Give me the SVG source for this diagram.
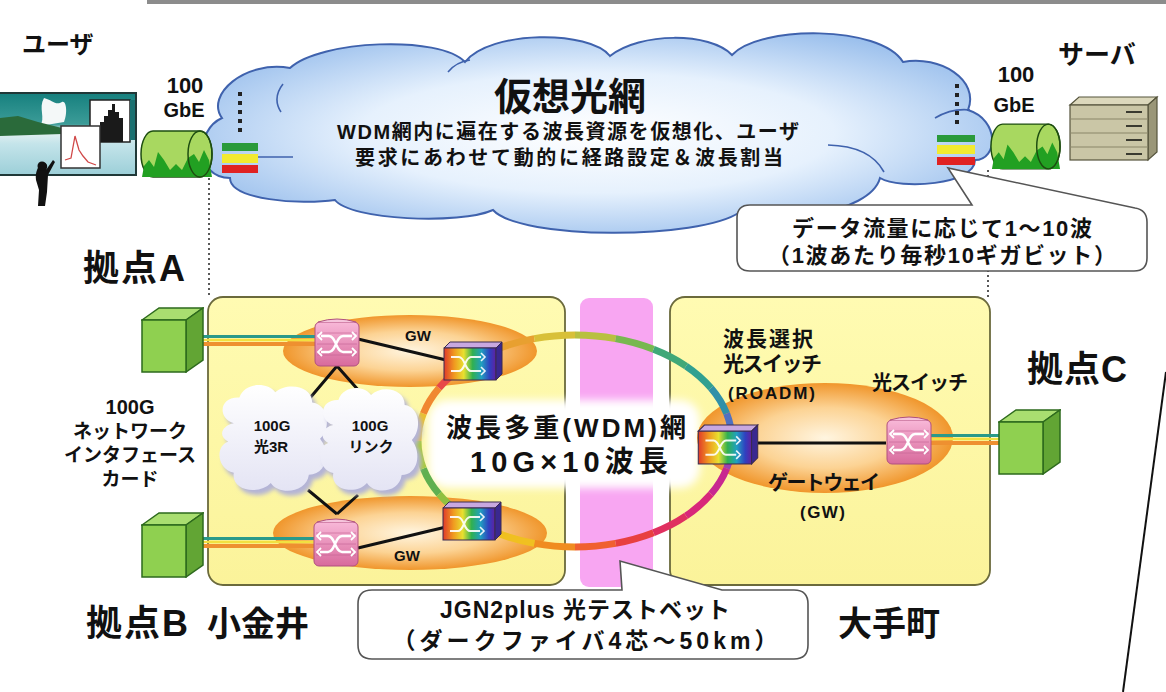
<svg xmlns="http://www.w3.org/2000/svg" xmlns:xlink="http://www.w3.org/1999/xlink" width="1166" height="692" viewBox="0 0 1166 692">
<style>
  .t { font-family: "Liberation Sans", "Noto Sans CJK JP", sans-serif; font-weight: 700; fill: #111; }
  .jp { font-family: "Noto Sans CJK JP", sans-serif; font-weight: 700; fill: #111; }
  .mid { text-anchor: middle; }
  .blk { stroke: #111; stroke-width: 3; fill: none; }
  .dot { stroke: #222; stroke-width: 1.5; stroke-dasharray: 2 3; fill: none; }
  .bigdot { stroke: #222; stroke-width: 4; stroke-dasharray: 4 5; fill: none; }
  .callout { fill: #fff; stroke: #555; stroke-width: 1.6; }
  .ybox { fill: url(#yellowG); stroke: #6b6a3c; stroke-width: 1.8; }
  .cube-front { fill: #8fd050; stroke: #2d6a1d; stroke-width: 1.5; }
  .cube-top { fill: #a9de70; stroke: #2d6a1d; stroke-width: 1.5; }
  .cube-side { fill: #62a534; stroke: #2d6a1d; stroke-width: 1.5; }
</style>
<defs>
  <linearGradient id="yellowG" x1="0" y1="0" x2="0" y2="1">
    <stop offset="0" stop-color="#fffbb2"/>
    <stop offset="1" stop-color="#fbf39a"/>
  </linearGradient>
  <radialGradient id="cloudG" cx="0.5" cy="0.5" r="0.6">
    <stop offset="0" stop-color="#ffffff"/>
    <stop offset="0.5" stop-color="#e6f1fd"/>
    <stop offset="1" stop-color="#94bbeb"/>
  </radialGradient>
  <radialGradient id="orangeG" cx="0.5" cy="0.5" r="0.5">
    <stop offset="0" stop-color="#fff5e0"/>
    <stop offset="0.55" stop-color="#fcd394"/>
    <stop offset="1" stop-color="#f0962c"/>
  </radialGradient>
  <linearGradient id="smallCloudG" x1="0" y1="0" x2="0" y2="1">
    <stop offset="0" stop-color="#ffffff"/>
    <stop offset="1" stop-color="#e4e4f4"/>
  </linearGradient>
  <linearGradient id="pinkG" x1="0" y1="0" x2="0" y2="1">
    <stop offset="0" stop-color="#f8b8d8"/>
    <stop offset="1" stop-color="#d86a9c"/>
  </linearGradient>
  <linearGradient id="rainbowG" x1="0" y1="0" x2="1" y2="0">
    <stop offset="0" stop-color="#e03a2a"/>
    <stop offset="0.2" stop-color="#f09a20"/>
    <stop offset="0.38" stop-color="#e8e030"/>
    <stop offset="0.55" stop-color="#30b050"/>
    <stop offset="0.72" stop-color="#20a0c0"/>
    <stop offset="0.88" stop-color="#3040c0"/>
    <stop offset="1" stop-color="#6020a0"/>
  </linearGradient>
  <linearGradient id="sceneG" x1="0" y1="0" x2="0" y2="1">
    <stop offset="0" stop-color="#16807e"/>
    <stop offset="0.38" stop-color="#3c9c98"/>
    <stop offset="0.46" stop-color="#e8f2f2"/>
    <stop offset="0.62" stop-color="#c4e4ea"/>
    <stop offset="1" stop-color="#9ccfd8"/>
  </linearGradient>
  <filter id="soft" x="-0.2" y="-0.2" width="1.4" height="1.4">
    <feGaussianBlur stdDeviation="4"/>
  </filter>
  <filter id="shadow" x="-0.2" y="-0.2" width="1.4" height="1.4">
    <feGaussianBlur stdDeviation="2"/>
  </filter>
  <!-- small 100G cloud outline, about 100 x 110 -->
  <path id="cloudShape" d="M15,40 C0,35 2,14 20,15 C25,0 45,0 52,10 C62,0 85,3 85,20 C100,22 102,45 92,55 C102,68 98,90 82,90 C80,108 55,110 48,98 C38,110 12,106 15,88 C0,85 -2,62 10,58 C0,52 5,42 15,40 Z"/>
  <!-- packet/optical switch (pink stack) -->
  <symbol id="psw" viewBox="0 0 46 50">
    <rect x="1" y="5" width="44" height="44" rx="5" fill="url(#pinkG)" stroke="#b0507e" stroke-width="1"/>
    <path d="M4,5 Q23,-1 42,5" fill="#f6c4dc" stroke="#b0507e" stroke-width="1"/>
    <path d="M3,16 H43 M3,27 H43 M3,38 H43" stroke="#c26092" stroke-width="1" opacity="0.6"/>
    <path d="M7,19 H15 C22,19 22,35 29,35 H38 M7,35 H15 C22,35 22,19 29,19 H38" fill="none" stroke="#fff" stroke-width="2.4"/>
    <path d="M38,15 L42,19 L38,23 M38,31 L42,35 L38,39 M8,15 L4,19 L8,23 M8,31 L4,35 L8,39" fill="none" stroke="#fff" stroke-width="1.8"/>
  </symbol>
  <!-- wavelength switch (rainbow box) -->
  <symbol id="wsw" viewBox="0 0 60 40">
    <polygon points="1,7 7,1 59,1 53,7" fill="#c8a8e0" stroke="#3a2a50" stroke-width="1"/>
    <rect x="1" y="7" width="52" height="32" fill="url(#rainbowG)" stroke="#3a2a50" stroke-width="1"/>
    <polygon points="53,7 59,1 59,33 53,39" fill="#3a2890" stroke="#3a2a50" stroke-width="1"/>
    <path d="M8,16 H16 C22,16 22,30 28,30 H38 M8,30 H16 C22,30 22,16 28,16 H38" fill="none" stroke="#fff" stroke-width="2" opacity="0.9"/>
    <path d="M38,12 L42,16 L38,20 M38,26 L42,30 L38,34" fill="none" stroke="#fff" stroke-width="1.6" opacity="0.9"/>
  </symbol>
  <!-- network interface card (green cube) -->
  <symbol id="cube" viewBox="0 0 63 66">
    <polygon class="cube-top" points="1,13 18,1 62,1 45,13"/>
    <polygon class="cube-side" points="45,13 62,1 62,53 45,65"/>
    <rect class="cube-front" x="1" y="13" width="44" height="52"/>
  </symbol>
  <!-- 100GbE cable drum -->
  <symbol id="drum" viewBox="0 0 74 48">
    <path d="M13,1 H60 A12,23 0 0 1 60,47 H13 A12,23 0 0 1 13,1 Z" fill="#a8d860" stroke="#1d4d10" stroke-width="1.5"/>
    <polygon points="2,47 4,36 9,30 14,37 18,22 24,30 30,40 36,34 42,40 48,28 54,24 59,32 64,20 69,30 72,47" fill="#22a022"/>
    <ellipse cx="60" cy="24" rx="12" ry="23" fill="none" stroke="#1d4d10" stroke-width="1.5"/>
  </symbol>
</defs>

<rect width="1166" height="692" fill="#ffffff"/>
<rect x="147" y="0" width="1019" height="4" fill="#8c8c8c"/>

<!-- site boxes and test-bed band -->
<g id="site-koganei">
  <rect class="ybox" x="208" y="297" width="357" height="288" rx="15"/>
</g>
<g id="site-otemachi">
  <rect class="ybox" x="670" y="297" width="320" height="288" rx="15"/>
</g>
<g id="testbed-band">
  <rect x="580" y="298" width="73" height="289" rx="9" fill="#f8a6f2"/>
</g>
<rect x="428" y="400" width="272" height="88" rx="20" fill="#ffffff" filter="url(#soft)"/>

<!-- gateway ellipses -->
<g id="gw-top"><ellipse cx="410" cy="351" rx="127" ry="36" fill="url(#orangeG)"/></g>
<g id="gw-bottom"><ellipse cx="410" cy="533" rx="137" ry="37" fill="url(#orangeG)"/></g>
<g id="gw-otemachi"><ellipse cx="825" cy="438" rx="128" ry="55" fill="url(#orangeG)"/></g>

<!-- virtual optical network cloud -->
<g id="virtual-network">
  <path d="M222,118 C205,95 245,60 290,68 C320,40 440,35 465,62 C490,30 590,30 610,56 C640,32 710,32 732,55 C760,25 880,25 903,62 C940,55 980,80 968,110 C1000,120 998,160 975,160 C975,185 900,190 880,178 C870,215 770,225 740,212 C700,240 520,240 493,210 C460,225 350,220 335,200 C300,205 230,200 230,178 C195,178 195,130 222,118 Z" fill="url(#cloudG)" stroke="#3f62ad" stroke-width="2"/>
  <path d="M283,84 Q272,98 281,112 M828,145 Q870,146 884,172 M935,118 Q952,108 970,110 M448,72 Q456,62 470,60" fill="none" stroke="#3f62ad" stroke-width="1.6"/>
  <text class="jp mid" x="570" y="110" font-size="38">仮想光網</text>
  <text class="t mid" x="568" y="139" font-size="20" textLength="462" lengthAdjust="spacing">WDM網内に遍在する波長資源を仮想化、ユーザ</text>
  <text class="t mid" x="569" y="165" font-size="20" textLength="428" lengthAdjust="spacing">要求にあわせて動的に経路設定＆波長割当</text>
</g>

<!-- connectors -->
<g id="connectors">
  <!-- site boundary guides -->
  <path class="dot" d="M209,178 V297"/>
  <path class="dot" d="M988,170 V297"/>
  <!-- wavelength stacks in the cloud -->
  <path class="bigdot" d="M240,92 V136"/>
  <path class="bigdot" d="M957,84 V127"/>
  <rect x="222" y="143" width="36" height="8" fill="#2a9a3a"/>
  <rect x="222" y="154" width="36" height="9" fill="#f2ea30"/>
  <rect x="222" y="165" width="36" height="8" fill="#e02222"/>
  <path d="M258,157 H293" stroke="#3f62ad" stroke-width="1.5"/>
  <rect x="937" y="135" width="38" height="7" fill="#2a9a3a"/>
  <rect x="937" y="145" width="38" height="9" fill="#f2ea30"/>
  <rect x="937" y="157" width="38" height="8" fill="#e02222"/>
  <!-- fibres from interface cards -->
  <path d="M202,336.5 H318" stroke="#2a9a8a" stroke-width="3"/>
  <path d="M202,340 H318" stroke="#f2e040" stroke-width="2.5"/>
  <path d="M202,344 H318" stroke="#ee9030" stroke-width="4"/>
  <path d="M202,538.5 H316" stroke="#2a9a8a" stroke-width="3"/>
  <path d="M202,542 H316" stroke="#f2e040" stroke-width="2.5"/>
  <path d="M202,546 H316" stroke="#ee9030" stroke-width="4"/>
  <path d="M930,435.5 H1000" stroke="#2a9a8a" stroke-width="3"/>
  <path d="M930,439 H1000" stroke="#f2e040" stroke-width="2.5"/>
  <path d="M930,443 H1000" stroke="#ee9030" stroke-width="4"/>
  <!-- gateway links -->
  <path class="blk" d="M337,366 L310,398 M337,366 L360,392"/>
  <path class="blk" d="M337,514 L308,490 M337,514 L358,495"/>
  <path class="blk" d="M358,339 L446,360"/>
  <path class="blk" d="M358,548 L446,527"/>
  <path class="blk" d="M758,443 H886"/>
  <!-- WDM ring -->
  <g fill="none" stroke-width="7">
    <path d="M732,441 A157,106 0 0 1 726.65,468.43" stroke="#a040b0"/>
    <path d="M726.65,468.43 A157,106 0 0 1 710.97,494" stroke="#c82890"/>
    <path d="M710.97,494 A157,106 0 0 1 686.01,515.95" stroke="#d8287a"/>
    <path d="M686.01,515.95 A157,106 0 0 1 653.5,532.8" stroke="#e03060"/>
    <path d="M653.5,532.8 A157,106 0 0 1 615.63,543.39" stroke="#e84040"/>
    <path d="M615.63,543.39 A157,106 0 0 1 575,547" stroke="#f06030"/>
    <path d="M575,547 A157,106 0 0 1 534.37,543.39" stroke="#f08c20"/>
    <path d="M534.37,543.39 A157,106 0 0 1 496.5,532.8" stroke="#f0c020"/>
    <path d="M496.5,532.8 A157,106 0 0 1 463.99,515.95" stroke="#d8d030"/>
    <path d="M463.99,515.95 A157,106 0 0 1 439.03,494" stroke="#90c040"/>
    <path d="M439.03,494 A157,106 0 0 1 423.35,468.43" stroke="#60b050"/>
    <path d="M423.35,468.43 A157,106 0 0 1 418,441" stroke="#a8c840"/>
    <path d="M418,441 A157,106 0 0 1 423.35,413.57" stroke="#e8c030"/>
    <path d="M423.35,413.57 A157,106 0 0 1 439.03,388" stroke="#f08830"/>
    <path d="M439.03,388 A157,106 0 0 1 463.99,366.05" stroke="#e84848"/>
    <path d="M463.99,366.05 A157,106 0 0 1 496.5,349.2" stroke="#e86040"/>
    <path d="M496.5,349.2 A157,106 0 0 1 534.37,338.61" stroke="#e8a030"/>
    <path d="M534.37,338.61 A157,106 0 0 1 575,335" stroke="#d8c038"/>
    <path d="M575,335 A157,106 0 0 1 615.63,338.61" stroke="#b8c040"/>
    <path d="M615.63,338.61 A157,106 0 0 1 653.5,349.2" stroke="#78b850"/>
    <path d="M653.5,349.2 A157,106 0 0 1 686.01,366.05" stroke="#40a878"/>
    <path d="M686.01,366.05 A157,106 0 0 1 710.97,388" stroke="#30a090"/>
    <path d="M710.97,388 A157,106 0 0 1 726.65,413.57" stroke="#3090a8"/>
    <path d="M726.65,413.57 A157,106 0 0 1 732,441" stroke="#5070c0"/>
  </g>
</g>

<!-- 100G clouds -->
<g id="cloud-3r">
  <use href="#cloudShape" transform="translate(221,387) scale(1.12,1.03)" fill="#b4b4d6" filter="url(#shadow)"/>
  <use href="#cloudShape" transform="translate(217,382) scale(1.12,1.03)" fill="url(#smallCloudG)"/>
  <text class="t mid" x="272" y="431" font-size="15">100G</text>
  <text class="t mid" x="271" y="452" font-size="15">光3R</text>
</g>
<g id="cloud-link">
  <use href="#cloudShape" transform="translate(322,390) scale(1.02,1.0)" fill="#b4b4d6" filter="url(#shadow)"/>
  <use href="#cloudShape" transform="translate(318,385) scale(1.02,1.0)" fill="url(#smallCloudG)"/>
  <text class="t mid" x="370" y="431" font-size="15">100G</text>
  <text class="t mid" x="371" y="452" font-size="15">リンク</text>
</g>

<!-- switches -->
<g id="switch-top"><use href="#psw" x="314" y="317" width="46" height="50"/></g>
<g id="switch-bottom"><use href="#psw" x="313" y="517" width="46" height="50"/></g>
<g id="switch-otemachi"><use href="#psw" x="886" y="415" width="46" height="50"/></g>
<g id="wdm-top"><use href="#wsw" x="443" y="341" width="60" height="40"/></g>
<g id="wdm-bottom"><use href="#wsw" x="442" y="501" width="60" height="40"/></g>
<g id="roadm"><use href="#wsw" x="697" y="424" width="62" height="41"/></g>

<!-- interface cards -->
<g id="nic-a"><use href="#cube" x="141" y="307" width="63" height="66"/></g>
<g id="nic-b"><use href="#cube" x="141" y="512" width="63" height="66"/></g>
<g id="nic-c"><use href="#cube" x="998" y="409" width="63" height="66"/></g>

<!-- 100GbE drums -->
<g id="drum-user"><use href="#drum" x="140" y="130" width="74" height="48"/></g>
<g id="drum-server"><use href="#drum" x="990" y="123" width="72" height="47"/></g>

<!-- user -->
<g id="user">
  <rect x="-2" y="93" width="138" height="82" fill="url(#sceneG)" stroke="#203838" stroke-width="2"/>
  <path d="M44,98 C52,100 56,106 62,102 C66,100 68,112 64,122 L40,126 C46,118 38,108 44,98 Z" fill="#f4f8f8"/>
  <path d="M0,118 L18,116 L38,122 L62,128 L62,134 L0,136 Z" fill="#2a6a3a"/>
  <rect x="90" y="100" width="40" height="42" fill="#ffffff" stroke="#222" stroke-width="1.5"/>
  <path d="M100,142 V122 H104 V116 H108 V110 H112 V104 H115 V112 H119 V118 H123 V142 Z" fill="#1a1a1a"/>
  <rect x="130" y="100" width="5" height="40" fill="#1a7070"/>
  <rect x="61" y="126" width="39" height="42" fill="#ffffff" stroke="#333" stroke-width="1.5"/>
  <path d="M65,160 L71,158 L75,136 L79,150 L83,156 L88,162 L96,165" fill="none" stroke="#d04848" stroke-width="1.3"/>
  <path d="M42,163 C46,161 49,166 46,170 L53,160 L55,162 L48,175 L47,192 L45,206 L38,206 L39,190 L36,180 C35,172 38,166 42,163 Z" fill="#111"/>
  <circle cx="42" cy="166" r="4.5" fill="#111"/>
  <text class="jp" x="22" y="53" font-size="24">ユーザ</text>
  <text class="t mid" x="185" y="93" font-size="22">100</text>
  <text class="t mid" x="184" y="117" font-size="20">GbE</text>
</g>

<!-- server -->
<g id="server">
  <polygon points="1070,105 1079,97 1157,97 1148,105" fill="#dcd8bc" stroke="#55543c" stroke-width="1.2"/>
  <polygon points="1148,105 1157,97 1157,152 1148,160" fill="#9a9678" stroke="#55543c" stroke-width="1.2"/>
  <rect x="1070" y="105" width="78" height="55" fill="#cac6a6" stroke="#55543c" stroke-width="1.2"/>
  <path d="M1070,119 H1148 M1070,133 H1148 M1070,147 H1148" stroke="#8a8668" stroke-width="1"/>
  <path d="M1126,112 H1142 M1126,126 H1142 M1126,140 H1142 M1126,154 H1142" stroke="#3a3a30" stroke-width="2"/>
  <text class="jp" x="1058" y="64" font-size="26">サーバ</text>
  <text class="t mid" x="1016" y="82" font-size="22">100</text>
  <text class="t mid" x="1014" y="112" font-size="20">GbE</text>
</g>

<!-- callouts -->
<g id="note-wavelength">
  <path class="callout" d="M750,205 H972 L948,168 L1135,208 Q1147,210 1147,222 V258 Q1147,271 1134,271 H750 Q737,271 737,258 V218 Q737,205 750,205 Z"/>
  <text class="t mid" x="942" y="236" font-size="22" textLength="300" lengthAdjust="spacing">データ流量に応じて1～10波</text>
  <text class="t mid" x="942" y="263" font-size="22" textLength="348" lengthAdjust="spacing">（1波あたり毎秒10ギガビット）</text>
</g>
<g id="note-testbed">
  <path class="callout" d="M372,590 H622 L620,561 L722,590 H794 Q808,590 808,604 V645 Q808,659 794,659 H372 Q358,659 358,645 V604 Q358,590 372,590 Z"/>
  <text class="t mid" x="585" y="618" font-size="23" textLength="290" lengthAdjust="spacing">JGN2plus 光テストベット</text>
  <text class="t mid" x="585" y="649" font-size="23" textLength="385" lengthAdjust="spacing">（ダークファイバ4芯～50km）</text>
</g>

<!-- labels -->
<g id="labels">
  <text class="t" x="83" y="281" font-size="36" textLength="102" lengthAdjust="spacing">拠点A</text>
  <text class="t mid" x="130" y="414" font-size="20">100G</text>
  <text class="t mid" x="130" y="438" font-size="19">ネットワーク</text>
  <text class="t mid" x="130" y="462" font-size="19">インタフェース</text>
  <text class="t mid" x="130" y="486" font-size="19">カード</text>
  <text class="t mid" x="418" y="341" font-size="15">GW</text>
  <text class="t mid" x="407" y="561" font-size="15">GW</text>
  <text class="t mid" x="566" y="437" font-size="26" textLength="240" lengthAdjust="spacing">波長多重(WDM)網</text>
  <text class="t mid" x="569" y="472" font-size="29" textLength="198" lengthAdjust="spacing">10G×10波長</text>
  <text class="t" x="723" y="346" font-size="21" textLength="90" lengthAdjust="spacing">波長選択</text>
  <text class="t" x="723" y="371" font-size="21" textLength="99" lengthAdjust="spacing">光スイッチ</text>
  <text class="t" x="728" y="399" font-size="17" textLength="87" lengthAdjust="spacing">(ROADM)</text>
  <text class="t" x="872" y="390" font-size="20" textLength="96" lengthAdjust="spacing">光スイッチ</text>
  <text class="t" x="768" y="490" font-size="20" textLength="112" lengthAdjust="spacing">ゲートウェイ</text>
  <text class="t" x="800" y="518" font-size="17" textLength="45" lengthAdjust="spacing">(GW)</text>
  <text class="t" x="1027" y="382" font-size="36" textLength="100" lengthAdjust="spacing">拠点C</text>
  <text class="t" x="86" y="636" font-size="36" textLength="102" lengthAdjust="spacing">拠点B</text>
  <text class="t" x="207" y="636" font-size="34">小金井</text>
  <text class="t" x="838" y="636" font-size="34">大手町</text>
</g>

<path d="M1166,372 L1123,692" stroke="#111" stroke-width="2" fill="none"/>
</svg>
